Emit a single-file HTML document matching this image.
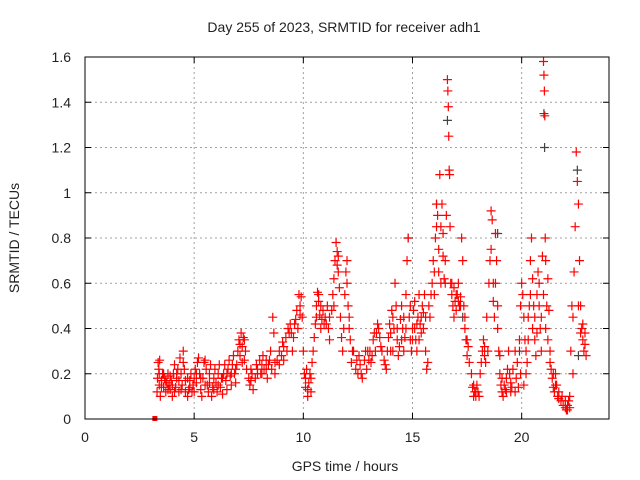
<!DOCTYPE html>
<html><head><meta charset="utf-8"><style>
body{margin:0;background:#fff;}
svg{display:block;font-family:"Liberation Sans",sans-serif;}
</style></head><body>
<svg id="chart" width="640" height="480">
<rect width="640" height="480" fill="#fff"/>
<text x="344" y="32" text-anchor="middle" font-size="14" fill="#222">Day 255 of 2023, SRMTID for receiver adh1</text>
<text x="345" y="471" text-anchor="middle" font-size="14" fill="#222">GPS time / hours</text>
<text transform="translate(19,238) rotate(-90)" text-anchor="middle" font-size="14" fill="#222">SRMTID / TECUs</text>
<g id="grid"></g>
<g id="ticks"></g>
<g id="marks2"></g>
<g id="marks"></g>
<rect x="85" y="57" width="524" height="362" fill="none" stroke="#000" stroke-width="1"/>
</svg>
<script>
const xTicks=[0,5,10,15,20];
const yTicks=[0,0.2,0.4,0.6,0.8,1,1.2,1.4,1.6];
const yTickLabels=["0","0.2","0.4","0.6","0.8","1","1.2","1.4","1.6"];
const times=[3.30,3.32,3.35,3.38,3.4,3.42,3.45,3.5,3.55,3.6,3.65,3.7,3.75,3.8,3.85,3.9,3.95,4.0,4.05,4.1,4.15,4.2,4.25,4.3,4.35,4.4,4.45,4.5,4.55,4.6,4.7,4.75,4.8,4.85,4.9,4.95,5.0,5.05,5.1,5.15,5.2,5.25,5.3,5.35,5.4,5.45,5.5,5.55,5.6,5.65,5.7,5.75,5.8,5.85,5.9,5.95,6.0,6.05,6.1,6.15,6.2,6.25,6.3,6.35,6.4,6.45,6.5,6.55,6.6,6.65,6.7,6.75,6.8,6.85,6.9,6.95,7.0,7.05,7.1,7.15,7.2,7.25,7.3,7.35,7.4,7.5,7.55,7.6,7.65,7.7,7.8,7.85,7.9,8.0,8.05,8.1,8.15,8.2,8.3,8.35,8.4,8.5,8.55,8.6,8.65,8.7,8.8,8.9,9.0,9.05,9.1,9.2,9.3,9.35,9.4,9.5,9.55,9.6,9.7,9.75,9.8,9.85,9.9,9.95,10.0,10.05,10.1,10.15,10.2,10.25,10.3,10.35,10.4,10.45,10.5,10.55,10.6,10.65,10.7,10.75,10.8,10.85,10.9,11.0,11.05,11.1,11.15,11.2,11.3,11.35,11.4,11.45,11.5,11.55,11.6,11.65,11.7,11.75,11.8,11.9,11.95,12.0,12.05,12.1,12.15,12.2,12.3,12.4,12.5,12.55,12.6,12.7,12.8,12.85,12.9,13.0,13.05,13.1,13.2,13.25,13.3,13.4,13.45,13.5,13.6,13.7,13.8,13.85,13.9,13.95,14.0,14.05,14.1,14.15,14.2,14.25,14.3,14.35,14.4,14.45,14.5,14.55,14.6,14.65,14.7,14.75,14.8,14.85,14.9,14.95,15.0,15.05,15.1,15.15,15.2,15.25,15.3,15.35,15.4,15.45,15.5,15.55,15.6,15.65,15.7,15.8,15.85,15.9,15.95,16.0,16.05,16.1,16.15,16.2,16.25,16.3,16.35,16.4,16.45,16.5,16.55,16.6,16.62,16.64,16.66,16.68,16.7,16.72,16.75,16.8,16.85,16.9,16.95,17.0,17.05,17.1,17.15,17.2,17.25,17.3,17.35,17.4,17.45,17.5,17.55,17.6,17.7,17.75,17.8,17.85,17.9,17.95,18.0,18.1,18.2,18.25,18.3,18.35,18.4,18.5,18.55,18.6,18.65,18.7,18.75,18.8,18.85,18.9,18.95,19.0,19.05,19.1,19.15,19.2,19.25,19.3,19.35,19.4,19.45,19.5,19.55,19.6,19.7,19.75,19.8,19.9,19.95,20.0,20.05,20.1,20.15,20.2,20.25,20.3,20.35,20.4,20.45,20.5,20.55,20.6,20.65,20.7,20.75,20.8,20.85,20.9,20.95,21.0,21.02,21.04,21.06,21.08,21.1,21.15,21.2,21.25,21.3,21.35,21.4,21.45,21.5,21.55,21.6,21.65,21.7,21.8,21.9,22.0,22.05,22.1,22.15,22.2,22.25,22.3,22.35,22.4,22.45,22.5,22.55,22.6,22.65,22.7,22.75,22.8,22.85,22.9,22.95];
const srmtid=[.12,.18,.25,.22,.15,.26,.1,.17,.2,.14,.18,.12,.16,.2,.15,.13,.17,.1,.2,.24,.14,.18,.22,.12,.27,.2,.15,.3,.22,.17,.1,.13,.17,.2,.12,.15,.18,.22,.16,.25,.27,.2,.13,.1,.18,.25,.26,.22,.15,.12,.2,.24,.1,.14,.18,.22,.16,.12,.2,.24,.14,.18,.11,.2,.24,.17,.13,.22,.26,.19,.15,.24,.28,.2,.16,.24,.3,.35,.28,.38,.32,.36,.26,.3,.22,.18,.15,.22,.2,.13,.18,.24,.22,.26,.2,.24,.28,.22,.26,.18,.24,.3,.22,.45,.38,.2,.26,.3,.28,.34,.26,.36,.4,.38,.42,.3,.36,.42,.48,.4,.55,.5,.54,.45,.3,.2,.14,.22,.1,.16,.2,.12,.25,.3,.36,.42,.5,.56,.52,.46,.4,.44,.48,.45,.42,.5,.4,.35,.48,.55,.62,.7,.78,.74,.65,.58,.45,.36,.3,.55,.65,.7,.5,.4,.35,.25,.3,.22,.2,.28,.24,.18,.26,.3,.22,.26,.3,.25,.35,.38,.3,.42,.4,.36,.3,.26,.22,.3,.36,.42,.38,.48,.3,.4,.6,.5,.35,.28,.32,.44,.5,.4,.3,.36,.55,.7,.8,.45,.35,.3,.4,.48,.52,.35,.3,.45,.55,.42,.38,.5,.47,.55,.3,.22,.25,.45,.55,.6,.7,.65,.8,.95,.9,.75,1.08,.85,.95,.72,.62,.7,.9,1.5,1.45,1.38,1.25,1.1,1.08,.85,.6,.55,.5,.58,.52,.48,.55,.6,.5,.54,.8,.7,.5,.4,.35,.28,.32,.25,.2,.14,.1,.12,.1,.15,.12,.2,.3,.35,.32,.25,.45,.6,.7,.92,.88,.6,.45,.82,.7,.5,.3,.2,.15,.12,.1,.15,.13,.12,.22,.3,.2,.16,.14,.22,.3,.18,.25,.35,.5,.6,.55,.45,.35,.2,.25,.45,.5,.7,.8,.62,.5,.35,.28,.55,.65,.6,.4,.3,.72,1.58,1.52,1.45,1.34,.8,.7,.5,.62,.48,.3,.22,.18,.14,.12,.2,.15,.1,.12,.08,.06,.05,.04,.06,.08,.1,.3,.5,.45,.65,.85,1.18,1.05,.95,.7,.5,.4,.35,.3,.38,.28];
const extraTimes=[3.4,3.5,3.6,3.7,3.8,3.9,4.0,4.1,4.2,4.3,4.4,4.5,4.6,4.7,4.8,5.0,5.1,5.3,5.5,5.7,5.9,6.1,6.3,6.5,6.7,6.9,7.1,7.2,7.3,7.6,7.9,8.1,8.3,8.45,8.7,8.9,9.1,9.25,9.45,9.65,9.85,10.1,10.2,10.35,10.6,10.7,10.8,10.95,11.2,11.4,11.55,11.6,11.85,12.0,12.1,12.25,12.45,12.65,12.95,13.15,13.35,13.55,13.75,14.0,14.1,14.3,14.5,14.6,14.7,14.9,15.0,15.1,15.2,15.3,15.4,15.5,15.6,15.75,16.0,16.1,16.2,16.3,16.4,16.5,16.8,16.9,17.0,17.1,17.2,17.4,17.5,17.8,17.9,18.05,18.15,18.3,18.45,18.6,18.7,18.8,18.9,19.0,19.1,19.3,19.5,19.7,19.85,19.95,20.1,20.2,20.3,20.4,20.5,20.6,20.7,20.8,20.9,21.0,21.1,21.2,21.3,21.45,21.55,21.7,21.85,22.0,22.1,22.2,22.35,22.6,22.7,22.8,22.9];
const extraValues=[.2,.14,.2,.17,.13,.19,.15,.12,.2,.17,.13,.25,.12,.18,.14,.12,.2,.18,.15,.16,.13,.15,.18,.2,.2,.22,.33,.25,.35,.17,.2,.2,.22,.26,.25,.24,.32,.3,.38,.44,.46,.18,.13,.18,.45,.55,.5,.42,.45,.5,.68,.72,.4,.6,.45,.3,.26,.2,.3,.28,.38,.32,.24,.3,.45,.4,.35,.45,.4,.5,.35,.4,.42,.35,.45,.4,.45,.5,.55,.85,.65,.6,.82,.6,.6,.45,.55,.52,.5,.45,.35,.15,.12,.1,.25,.28,.3,.75,.52,.6,.4,.28,.18,.18,.12,.12,.14,.2,.15,.3,.35,.55,.4,.45,.38,.5,.45,.55,.4,.35,.25,.2,.15,.09,.1,.08,.04,.05,.2,.5,.38,.42,.33];
const grayTimes=[14.8,16.1,16.6,18.9,21.02,21.05,22.55,22.6,19.9,17.3];
const grayValues=[.8,.95,1.32,.82,1.35,1.2,1.1,.28,.3,.45];
const zeroTimes=[3.2];
const zeroValues=[0];

const X=h=>85+h*524/24;
const Y=v=>419-v*362/1.6;
const NS="http://www.w3.org/2000/svg";
const grid=document.getElementById('grid'),ticks=document.getElementById('ticks');
function mk(tag,attrs,parent){const e=document.createElementNS(NS,tag);for(const k in attrs)e.setAttribute(k,attrs[k]);parent.appendChild(e);return e;}
xTicks.forEach(t=>{
  const x=X(t);
  if(t>0){const g=mk('line',{x1:x,x2:x,y1:57,y2:419,stroke:'#a0a0a0','stroke-dasharray':'2,3'},grid);
  
  }
  mk('line',{x1:x,x2:x,y1:419,y2:413,stroke:'#000'},ticks);
  mk('line',{x1:x,x2:x,y1:57,y2:63,stroke:'#000'},ticks);
  const l=mk('text',{x:x,y:442,'text-anchor':'middle','font-size':14,fill:'#222'},ticks);
  l.textContent=t;
  
  
});
yTicks.forEach((v,i)=>{
  const y=Y(v);
  if(v>0&&v<1.6){const g=mk('line',{x1:85,x2:609,y1:y,y2:y,stroke:'#a0a0a0','stroke-dasharray':'2,3'},grid);
  
  }
  mk('line',{x1:85,x2:91,y1:y,y2:y,stroke:'#000'},ticks);
  mk('line',{x1:603,x2:609,y1:y,y2:y,stroke:'#000'},ticks);
  const l=mk('text',{x:71,y:y+5,'text-anchor':'end','font-size':14,fill:'#222'},ticks);
  l.textContent=yTickLabels[i];
  
  
});
function plus(g,x,y,c){return mk('path',{d:`M${x-4.5},${y}h9M${x},${y-4.5}v9`,stroke:c,'stroke-width':1.2,fill:'none'},g);}
const gm=document.getElementById('marks'),gm2=document.getElementById('marks2');
grayTimes.forEach((t,i)=>{const p=plus(gm2,X(t),Y(grayValues[i]),'#444');
  
  });
times.forEach((t,i)=>{const p=plus(gm,X(t),Y(srmtid[i]),'#f00');
  
  });
extraTimes.forEach((t,i)=>{const p=plus(gm,X(t),Y(extraValues[i]),'#f00');
  
  });
zeroTimes.forEach((t,i)=>{const r=mk('rect',{x:X(t)-2.5,y:Y(zeroValues[i])-3,width:5,height:5,fill:'#f00'},gm);
  
  });
</script>
</body></html>
